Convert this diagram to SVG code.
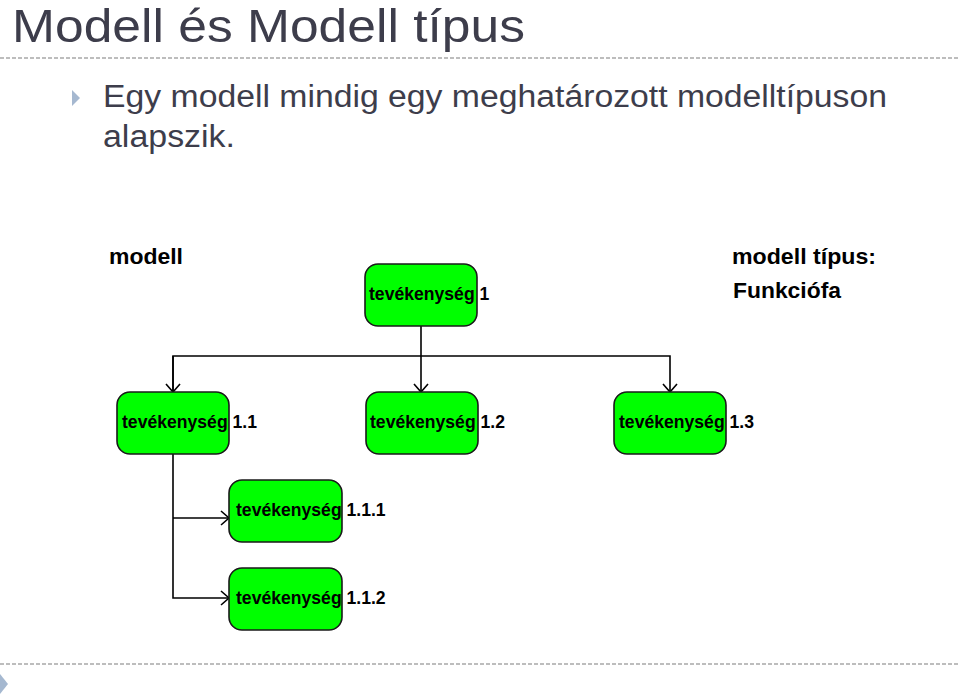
<svg xmlns="http://www.w3.org/2000/svg" width="960" height="697" viewBox="0 0 960 697">
<defs>
<style>
.title{font-family:"Liberation Sans",Arial,sans-serif;font-size:47px;fill:#3d3d4b}
.body{font-family:"Liberation Sans",Arial,sans-serif;font-size:31px;fill:#3d3d4b}
.lbl{font-family:"Liberation Sans",Arial,sans-serif;font-size:22px;font-weight:bold;fill:#000}
.node rect{fill:#00ff00;stroke:#1a1a1a;stroke-width:1.6}
.node text{font-family:"Liberation Sans",Arial,sans-serif;font-size:17.6px;font-weight:bold;fill:#000}
.dash{stroke:#a8a8a8;stroke-width:1.5;stroke-dasharray:4 2}
.conn path{fill:none;stroke:#000;stroke-width:1.6}
</style>
<marker id="arr" markerUnits="userSpaceOnUse" viewBox="-10 -9 12 18" refX="0" refY="0" markerWidth="12" markerHeight="18" orient="auto">
<path d="M-8,-7 L0,0 L-8,7" fill="none" stroke="#000" stroke-width="1.6"/>
</marker>
</defs>
<rect width="960" height="697" fill="#fff"/>
<text class="title" x="12" y="42" textLength="513" lengthAdjust="spacingAndGlyphs">Modell és Modell típus</text>
<line class="dash" x1="0" y1="58" x2="960" y2="58"/>
<polygon points="72,90 80,98 72,106" fill="#a5b8d0"/>
<text class="body" x="103" y="107" textLength="784" lengthAdjust="spacingAndGlyphs">Egy modell mindig egy meghatározott modelltípuson</text>
<text class="body" x="103" y="147" textLength="132" lengthAdjust="spacingAndGlyphs">alapszik.</text>
<text class="lbl" x="109" y="264" textLength="74" lengthAdjust="spacingAndGlyphs">modell</text>
<text class="lbl" x="732" y="264" textLength="144" lengthAdjust="spacingAndGlyphs">modell típus:</text>
<text class="lbl" x="733" y="298" textLength="108" lengthAdjust="spacingAndGlyphs">Funkciófa</text>
<g id="connectors" class="conn">
<path d="M421,326 V392" marker-end="url(#arr)"/>
<path d="M173,392 V356 H670 V392" marker-end="url(#arr)"/>
<path d="M173,356 V392" marker-end="url(#arr)"/>
<path d="M173,454 V598 H229" marker-end="url(#arr)"/>
<path d="M173,518 H229" marker-end="url(#arr)"/>
</g>
<g id="n1" class="node"><rect x="365" y="264" width="112" height="62" rx="13"/><text x="369" y="300">tevékenység 1</text></g>
<g id="n11" class="node"><rect x="117" y="392" width="112" height="62" rx="13"/><text x="122" y="428">tevékenység 1.1</text></g>
<g id="n12" class="node"><rect x="366" y="392" width="112" height="62" rx="13"/><text x="370" y="428">tevékenység 1.2</text></g>
<g id="n13" class="node"><rect x="614" y="392" width="112" height="62" rx="13"/><text x="619" y="428">tevékenység 1.3</text></g>
<g id="n111" class="node"><rect x="229" y="480" width="113" height="62" rx="13"/><text x="236" y="516">tevékenység 1.1.1</text></g>
<g id="n112" class="node"><rect x="229" y="568" width="113" height="62" rx="13"/><text x="236" y="604">tevékenység 1.1.2</text></g>
<line class="dash" x1="0" y1="664" x2="960" y2="664"/>
<polygon points="0,674 8,684 0,694" fill="#a5b8d0"/>
</svg>
